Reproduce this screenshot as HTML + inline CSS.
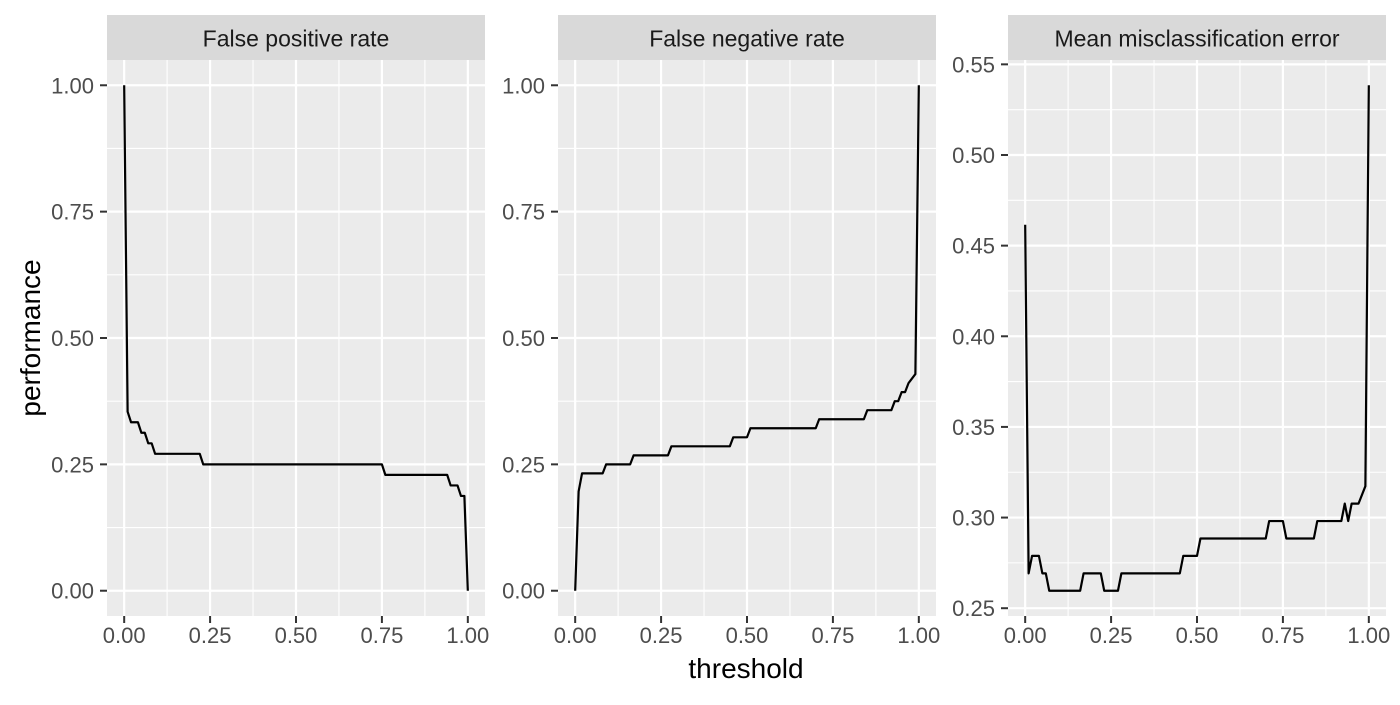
<!DOCTYPE html>
<html><head><meta charset="utf-8"><style>
body{margin:0;background:#fff;}
svg text{font-family:"Liberation Sans",Arial,sans-serif;}
</style></head><body>
<svg id="chart" width="1400" height="700" xmlns="http://www.w3.org/2000/svg"></svg>
<script>
// thresholds and values (breakpoints) per panel
const fprT = [0,0.01,0.02,0.04,0.05,0.06,0.07,0.08,0.09,0.22,0.23,0.75,0.76,0.94,0.95,0.97,0.98,0.99,1.0];
const fprV = [1.0,17/48,16/48,16/48,15/48,15/48,14/48,14/48,13/48,13/48,12/48,12/48,11/48,11/48,10/48,10/48,9/48,9/48,0];
const fnrT = [0,0.01,0.02,0.08,0.09,0.16,0.17,0.27,0.28,0.45,0.46,0.50,0.51,0.70,0.71,0.84,0.85,0.92,0.93,0.94,0.95,0.96,0.97,0.99,1.0];
const fnrV = [0,11/56,13/56,13/56,14/56,14/56,15/56,15/56,16/56,16/56,17/56,17/56,18/56,18/56,19/56,19/56,20/56,20/56,21/56,21/56,22/56,22/56,23/56,24/56,1.0];
const mmeT = [0,0.01,0.02,0.04,0.05,0.06,0.07,0.16,0.17,0.22,0.23,0.27,0.28,0.45,0.46,0.50,0.51,0.70,0.71,0.75,0.76,0.84,0.85,0.92,0.93,0.94,0.95,0.97,0.99,1.0];
const mmeV = [48/104,28/104,29/104,29/104,28/104,28/104,27/104,27/104,28/104,28/104,27/104,27/104,28/104,28/104,29/104,29/104,30/104,30/104,31/104,31/104,30/104,30/104,31/104,31/104,32/104,31/104,32/104,32/104,33/104,56/104];
const xTicks = [0,0.25,0.5,0.75,1];
const xTickLabels = ["0.00","0.25","0.50","0.75","1.00"];
const yTicks12 = [0,0.25,0.5,0.75,1];
const yTickLabels12 = ["0.00","0.25","0.50","0.75","1.00"];
const yTicks3 = [0.25,0.3,0.35,0.4,0.45,0.5,0.55];
const yTickLabels3 = ["0.25","0.30","0.35","0.40","0.45","0.50","0.55"];
const titles = ["False positive rate","False negative rate","Mean misclassification error"];

const NS="http://www.w3.org/2000/svg";
const svg=document.getElementById('chart');
function mk(tag,attrs,parent){const e=document.createElementNS(NS,tag);for(const k in attrs)e.setAttribute(k,attrs[k]);(parent||svg).appendChild(e);return e;}

const pTop=60,pBottom=616,stripTop=15;
const panels=[
 {l:107,r:485,T:fprT,V:fprV,yt:yTicks12,yl:yTickLabels12,ymin:-0.05,ymax:1.05,name:'fpr'},
 {l:558,r:936,T:fnrT,V:fnrV,yt:yTicks12,yl:yTickLabels12,ymin:-0.05,ymax:1.05,name:'fnr'},
 {l:1008,r:1386,T:mmeT,V:mmeV,yt:yTicks3,yl:yTickLabels3,ymin:0.2457,ymax:0.5524,name:'mme'}
];
panels.forEach((p,i)=>{
  const g=mk('g',{});
  
  
  const xs=t=>p.l+(t+0.05)/1.1*(p.r-p.l);
  const ys=v=>pBottom-(v-p.ymin)/(p.ymax-p.ymin)*(pBottom-pTop);
  const bg=mk('rect',{x:p.l,y:pTop,width:p.r-p.l,height:pBottom-pTop,fill:'#ebebeb'},g);
  
  
  const st=mk('rect',{x:p.l,y:stripTop,width:p.r-p.l,height:pTop-stripTop,fill:'#d9d9d9'},g);
  
  
  const stt=mk('text',{x:(p.l+p.r)/2,y:46.5,'text-anchor':'middle','font-size':'23',fill:'#1a1a1a'},g);
  stt.textContent=titles[i];
  
  
  for(let k=0;k<xTicks.length-1;k++){const m=(xTicks[k]+xTicks[k+1])/2;const ln=mk('line',{x1:xs(m),x2:xs(m),y1:pTop,y2:pBottom,stroke:'#fff','stroke-width':1.1},g);}
  for(let k=0;k<p.yt.length-1;k++){const m=(p.yt[k]+p.yt[k+1])/2;const ln=mk('line',{x1:p.l,x2:p.r,y1:ys(m),y2:ys(m),stroke:'#fff','stroke-width':1.1},g);}
  xTicks.forEach((t,k)=>{
    const ln=mk('line',{x1:xs(t),x2:xs(t),y1:pTop,y2:pBottom,stroke:'#fff','stroke-width':2.2},g);
    
    const tk=mk('line',{x1:xs(t),x2:xs(t),y1:pBottom,y2:pBottom+7,stroke:'#333','stroke-width':2},g);
    
    const tl=mk('text',{x:xs(t),y:pBottom+27,'text-anchor':'middle','font-size':'22',fill:'#4d4d4d'},g);
    tl.textContent=xTickLabels[k];
    
  });
  p.yt.forEach((v,k)=>{
    const ln=mk('line',{x1:p.l,x2:p.r,y1:ys(v),y2:ys(v),stroke:'#fff','stroke-width':2.2},g);
    
    const tk=mk('line',{x1:p.l-7,x2:p.l,y1:ys(v),y2:ys(v),stroke:'#333','stroke-width':2},g);
    
    const tl=mk('text',{x:p.l-13,y:ys(v)+8,'text-anchor':'end','font-size':'22',fill:'#4d4d4d'},g);
    tl.textContent=p.yl[k];
    
  });
  const d=p.T.map((t,k)=>(k?'L':'M')+xs(t).toFixed(2)+','+ys(p.V[k]).toFixed(2)).join('');
  const path=mk('path',{d:d,fill:'none',stroke:'#000','stroke-width':2.2,'stroke-linejoin':'round'},g);
  
  
});
const xt=mk('text',{x:746,y:678,'text-anchor':'middle','font-size':'28',fill:'#000'});
xt.textContent='threshold';


const yt=mk('text',{x:0,y:0,'text-anchor':'middle','font-size':'28',fill:'#000',transform:'translate(40,338) rotate(-90)'});
yt.textContent='performance';


</script>
</body></html>
